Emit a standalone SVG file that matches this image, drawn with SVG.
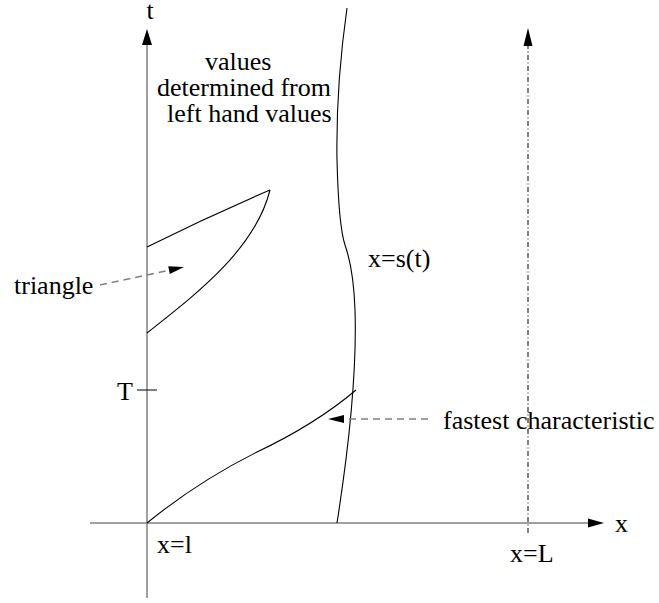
<svg xmlns="http://www.w3.org/2000/svg" width="659" height="603" viewBox="0 0 659 603">
<style>
.axis{stroke:#808080;stroke-width:1.5;fill:none}
.curve{stroke:#000;stroke-width:1.1;fill:none}
.dash{stroke:#808080;stroke-width:1.5;fill:none;stroke-dasharray:7 5}
.dashdot{stroke:#000;stroke-width:1;fill:none;stroke-dasharray:5 2.5 1 2.5}
.head{fill:#000;stroke:none}
text{font-family:"Liberation Serif","Times New Roman",serif;font-size:26px;fill:#000}
</style>
<rect width="659" height="603" fill="#fff"/>
<g id="axes">
<line class="axis" x1="147" y1="598" x2="147" y2="44"/>
<polygon class="head" points="147,29 152,45 142,45"/>
<line class="axis" x1="90" y1="523" x2="590" y2="523"/>
<polygon class="head" points="604,523 588,518.5 588,527.5"/>
<line class="axis" x1="137" y1="390" x2="157" y2="390" style="stroke:#000;stroke-width:1"/>
<text x="146.5" y="19">t</text>
<text x="615" y="532">x</text>
<text x="117" y="400">T</text>
<text x="157" y="553">x=l</text>
</g>
<g id="boundary-L">
<line class="dashdot" x1="528" y1="533" x2="528" y2="45"/>
<polygon class="head" points="528,28 532.5,46 523.5,46"/>
<text x="510" y="562">x=L</text>
</g>
<g id="shock">
<path class="curve" d="M347,8 C341,50 336,100 337,160 C338,200 340,230 345,245 C351,262 354,280 355,310 C357,370 350,440 337,523"/>
<text x="368" y="267">x=s(t)</text>
</g>
<g id="characteristic">
<path class="curve" d="M147,523 C185,492 225,468 257,452 C295,434 330,412 356,390"/>
</g>
<g id="triangle">
<path class="curve" d="M147,247 C185,228 235,205 270,190"/>
<path class="curve" d="M147,333 C195,295 255,250 270,190"/>
</g>
<g id="label-values">
<text x="205" y="70">values</text>
<text x="157" y="95.5">determined from</text>
<text x="167" y="121.5">left hand values</text>
</g>
<g id="connectors">
<line class="dash" x1="100" y1="285" x2="170" y2="270"/>
<polygon class="head" points="184,267 169.8,274.1 168.2,266.3"/>
<line class="dash" x1="428" y1="419" x2="342" y2="419"/>
<polygon class="head" points="328,419 344,415 344,423"/>
</g>
<g id="label-triangle"><text x="14" y="294">triangle</text></g>
<g id="label-fastest"><text x="443" y="429">fastest characteristic</text></g>
</svg>
